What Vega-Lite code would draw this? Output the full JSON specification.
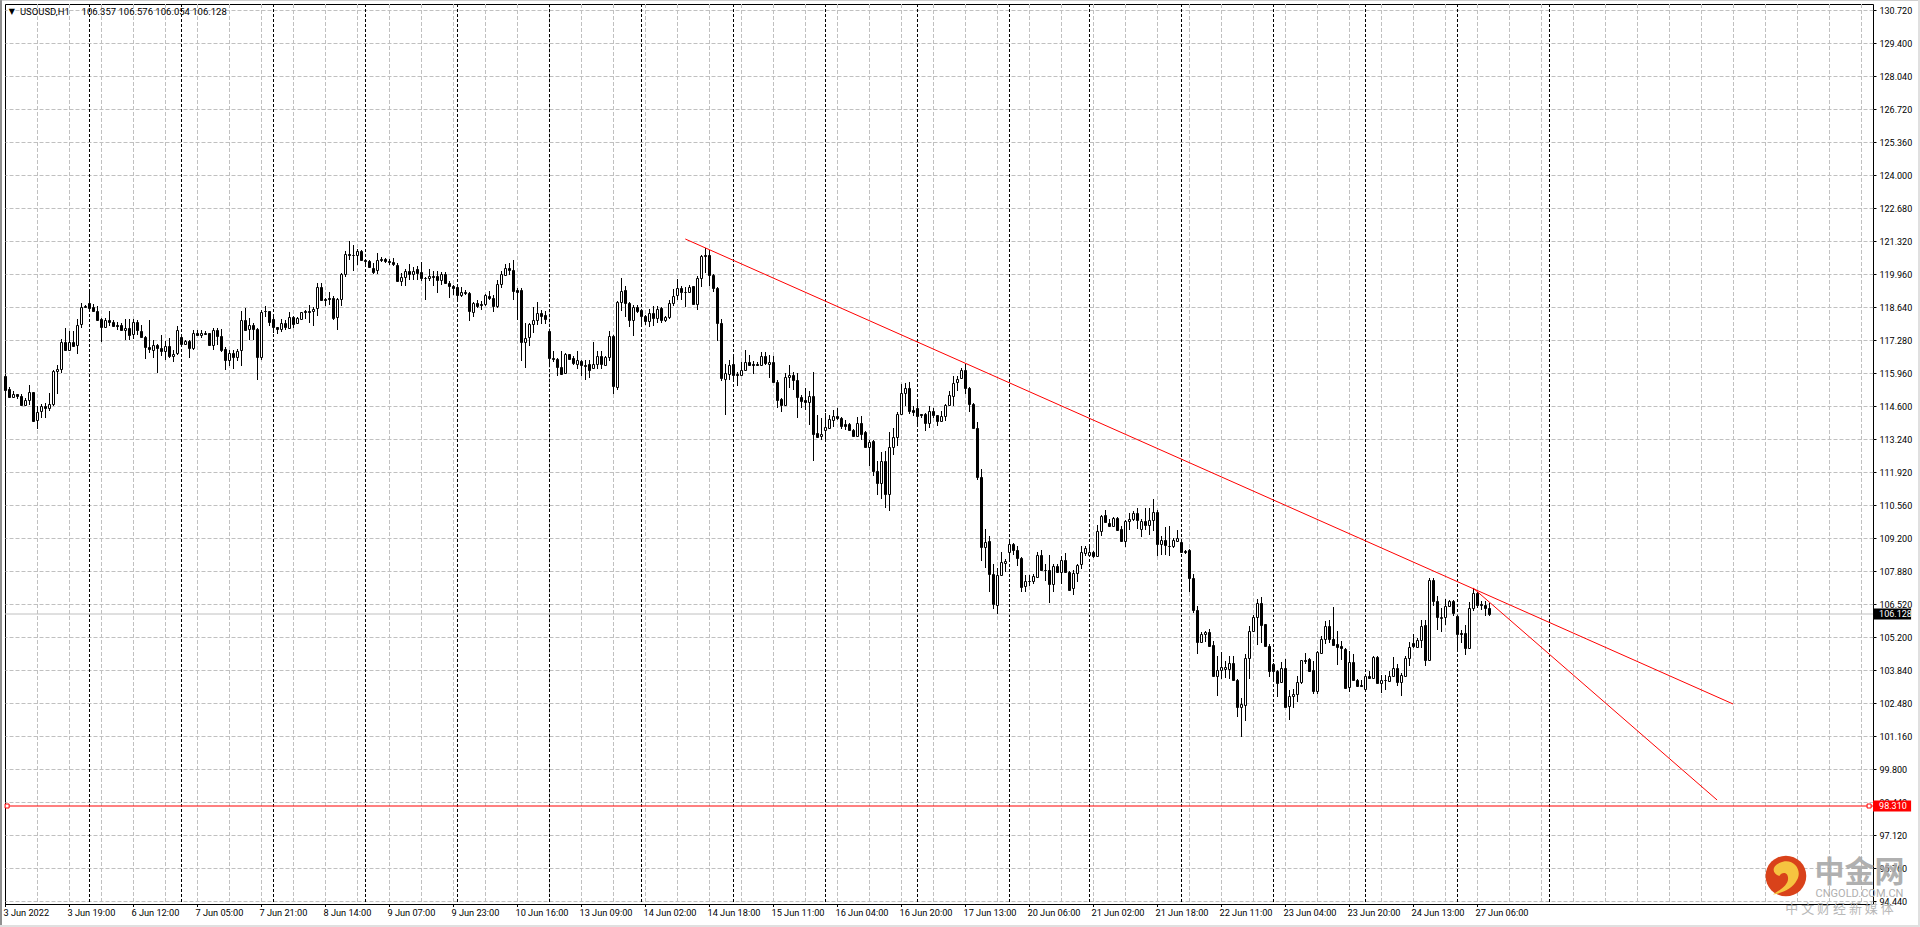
{"$schema":"https://vega.github.io/schema/vega-lite/v6.json","width":1868,"height":900,"autosize":{"type":"none"},"padding":{"left":5,"top":4,"right":47,"bottom":23},"background":"#ffffff","config":{"view":{"stroke":"#000000","strokeWidth":1},"axis":{"labelFont":"Roboto","labelFontSize":9,"labelColor":"#000000"}},"resolve":{"axis":{"x":"independent","y":"independent"}},"datasets":{"ohlc":[
{"i":0,"o":115.80,"h":115.84,"l":115.19,"c":115.23},{"i":1,"o":115.29,"h":115.37,"l":114.95,"c":114.95},{"i":2,"o":114.95,"h":115.21,"l":114.95,"c":115.10},{"i":3,"o":115.09,"h":115.10,"l":114.90,"c":114.99},{"i":4,"o":115.02,"h":115.10,"l":114.62,"c":114.65},{"i":5,"o":114.65,"h":114.92,"l":114.64,"c":114.85},{"i":6,"o":114.83,"h":115.46,"l":114.62,"c":115.17},{"i":7,"o":115.17,"h":115.17,"l":113.93,"c":114.00},{"i":8,"o":114.01,"h":114.58,"l":113.67,"c":114.35},{"i":9,"o":114.38,"h":114.69,"l":114.11,"c":114.60},
{"i":10,"o":114.61,"h":114.72,"l":114.11,"c":114.52},{"i":11,"o":114.50,"h":115.13,"l":114.38,"c":114.68},{"i":12,"o":114.66,"h":116.08,"l":114.58,"c":116.04},{"i":13,"o":116.01,"h":116.28,"l":115.10,"c":116.10},{"i":14,"o":116.10,"h":117.32,"l":115.94,"c":117.20},{"i":15,"o":117.20,"h":117.79,"l":116.89,"c":116.89},{"i":16,"o":116.89,"h":117.64,"l":116.86,"c":117.20},{"i":17,"o":117.20,"h":117.64,"l":117.03,"c":117.05},{"i":18,"o":117.07,"h":118.14,"l":116.73,"c":117.89},{"i":19,"o":117.92,"h":118.79,"l":117.77,"c":118.63},
{"i":20,"o":118.67,"h":118.72,"l":118.59,"c":118.61},{"i":21,"o":118.79,"h":119.24,"l":118.54,"c":118.59},{"i":22,"o":118.63,"h":118.76,"l":118.44,"c":118.45},{"i":23,"o":118.48,"h":118.68,"l":118.06,"c":118.08},{"i":24,"o":118.14,"h":118.18,"l":117.19,"c":117.80},{"i":25,"o":117.80,"h":118.18,"l":117.78,"c":118.11},{"i":26,"o":118.08,"h":118.46,"l":117.84,"c":118.00},{"i":27,"o":118.02,"h":118.11,"l":117.80,"c":117.87},{"i":28,"o":117.88,"h":118.00,"l":117.68,"c":117.87},{"i":29,"o":117.91,"h":117.98,"l":117.64,"c":117.68},
{"i":30,"o":117.68,"h":118.14,"l":117.30,"c":117.77},{"i":31,"o":117.77,"h":118.14,"l":117.27,"c":117.49},{"i":32,"o":117.51,"h":118.14,"l":117.34,"c":118.02},{"i":33,"o":118.02,"h":118.11,"l":117.50,"c":117.68},{"i":34,"o":117.66,"h":117.88,"l":117.39,"c":117.41},{"i":35,"o":117.42,"h":117.43,"l":116.51,"c":117.00},{"i":36,"o":117.00,"h":118.11,"l":116.76,"c":116.92},{"i":37,"o":116.89,"h":117.27,"l":116.55,"c":117.07},{"i":38,"o":117.08,"h":117.13,"l":115.94,"c":116.94},{"i":39,"o":116.96,"h":117.49,"l":116.62,"c":116.82},
{"i":40,"o":116.82,"h":117.26,"l":116.48,"c":117.04},{"i":41,"o":117.04,"h":117.36,"l":116.55,"c":116.62},{"i":42,"o":116.62,"h":116.86,"l":116.37,"c":116.71},{"i":43,"o":116.74,"h":117.84,"l":116.69,"c":117.69},{"i":44,"o":117.41,"h":117.50,"l":117.03,"c":117.11},{"i":45,"o":117.11,"h":117.28,"l":117.09,"c":117.24},{"i":46,"o":117.26,"h":117.30,"l":116.56,"c":116.94},{"i":47,"o":116.94,"h":117.68,"l":116.89,"c":117.57},{"i":48,"o":117.57,"h":117.70,"l":117.46,"c":117.47},{"i":49,"o":117.47,"h":117.68,"l":117.37,"c":117.55},
{"i":50,"o":117.57,"h":117.66,"l":117.47,"c":117.51},{"i":51,"o":117.55,"h":117.57,"l":117.05,"c":117.07},{"i":52,"o":117.07,"h":117.76,"l":116.89,"c":117.69},{"i":53,"o":117.70,"h":117.77,"l":117.09,"c":117.45},{"i":54,"o":117.45,"h":117.73,"l":116.81,"c":116.86},{"i":55,"o":116.93,"h":117.00,"l":116.08,"c":116.46},{"i":56,"o":116.46,"h":116.86,"l":116.24,"c":116.75},{"i":57,"o":116.75,"h":116.89,"l":116.10,"c":116.58},{"i":58,"o":116.58,"h":116.92,"l":116.41,"c":116.83},{"i":59,"o":116.86,"h":118.45,"l":116.21,"c":118.08},
{"i":60,"o":118.11,"h":118.59,"l":117.64,"c":117.70},{"i":61,"o":117.72,"h":118.18,"l":117.27,"c":117.89},{"i":62,"o":117.89,"h":117.98,"l":117.30,"c":117.73},{"i":63,"o":117.74,"h":117.77,"l":115.64,"c":116.58},{"i":64,"o":116.58,"h":118.52,"l":116.46,"c":118.44},{"i":65,"o":118.48,"h":118.68,"l":118.22,"c":118.45},{"i":66,"o":118.48,"h":118.48,"l":117.87,"c":118.03},{"i":67,"o":118.15,"h":118.27,"l":117.57,"c":117.80},{"i":68,"o":117.81,"h":117.81,"l":117.54,"c":117.72},{"i":69,"o":117.72,"h":118.14,"l":117.60,"c":117.98},
{"i":70,"o":117.96,"h":118.08,"l":117.70,"c":117.80},{"i":71,"o":117.77,"h":118.41,"l":117.74,"c":118.22},{"i":72,"o":118.22,"h":118.27,"l":117.77,"c":117.95},{"i":73,"o":117.96,"h":118.22,"l":117.95,"c":118.18},{"i":74,"o":118.14,"h":118.44,"l":118.11,"c":118.41},{"i":75,"o":118.48,"h":118.52,"l":118.14,"c":118.44},{"i":76,"o":118.46,"h":118.72,"l":117.98,"c":118.42},{"i":77,"o":118.46,"h":118.63,"l":117.84,"c":118.56},{"i":78,"o":118.59,"h":119.60,"l":118.25,"c":119.44},{"i":79,"o":119.44,"h":119.60,"l":118.88,"c":118.91},
{"i":80,"o":118.95,"h":118.99,"l":118.68,"c":118.91},{"i":81,"o":118.99,"h":119.24,"l":118.72,"c":118.94},{"i":82,"o":119.01,"h":119.06,"l":118.11,"c":118.19},{"i":83,"o":118.22,"h":118.99,"l":117.70,"c":118.95},{"i":84,"o":118.95,"h":120.01,"l":118.68,"c":119.98},{"i":85,"o":119.97,"h":120.89,"l":119.83,"c":120.80},{"i":86,"o":120.78,"h":121.33,"l":120.55,"c":120.74},{"i":87,"o":120.76,"h":121.16,"l":120.08,"c":120.73},{"i":88,"o":120.74,"h":120.99,"l":120.35,"c":120.91},{"i":89,"o":120.91,"h":120.93,"l":120.53,"c":120.54},
{"i":90,"o":120.54,"h":120.55,"l":120.28,"c":120.49},{"i":91,"o":120.50,"h":120.53,"l":120.24,"c":120.26},{"i":92,"o":120.21,"h":120.42,"l":119.97,"c":120.05},{"i":93,"o":120.12,"h":120.82,"l":119.96,"c":120.53},{"i":94,"o":120.58,"h":120.66,"l":120.44,"c":120.53},{"i":95,"o":120.58,"h":120.64,"l":120.42,"c":120.49},{"i":96,"o":120.50,"h":120.58,"l":120.35,"c":120.45},{"i":97,"o":120.46,"h":120.64,"l":120.31,"c":120.38},{"i":98,"o":120.35,"h":120.42,"l":119.67,"c":119.67},{"i":99,"o":119.67,"h":120.01,"l":119.47,"c":119.85},
{"i":100,"o":119.85,"h":120.17,"l":119.50,"c":120.09},{"i":101,"o":120.09,"h":120.38,"l":119.74,"c":119.96},{"i":102,"o":119.96,"h":120.26,"l":119.74,"c":120.09},{"i":103,"o":120.17,"h":120.28,"l":119.74,"c":120.02},{"i":104,"o":120.05,"h":120.45,"l":119.70,"c":119.79},{"i":105,"o":119.82,"h":119.85,"l":118.93,"c":119.79},{"i":106,"o":119.79,"h":120.17,"l":119.67,"c":119.89},{"i":107,"o":119.89,"h":120.08,"l":119.47,"c":119.85},{"i":108,"o":119.90,"h":120.08,"l":119.20,"c":119.74},{"i":109,"o":119.73,"h":120.04,"l":119.54,"c":119.97},
{"i":110,"o":119.98,"h":120.04,"l":119.56,"c":119.59},{"i":111,"o":119.60,"h":119.67,"l":118.99,"c":119.47},{"i":112,"o":119.50,"h":119.54,"l":119.13,"c":119.39},{"i":113,"o":119.44,"h":119.47,"l":118.90,"c":119.10},{"i":114,"o":119.10,"h":119.44,"l":119.03,"c":119.24},{"i":115,"o":119.24,"h":119.33,"l":119.10,"c":119.18},{"i":116,"o":119.20,"h":119.22,"l":118.04,"c":118.45},{"i":117,"o":118.41,"h":118.82,"l":118.22,"c":118.79},{"i":118,"o":118.79,"h":118.93,"l":118.59,"c":118.68},{"i":119,"o":118.76,"h":118.86,"l":118.52,"c":118.69},
{"i":120,"o":118.73,"h":119.17,"l":118.65,"c":119.12},{"i":121,"o":119.09,"h":119.27,"l":118.93,"c":119.01},{"i":122,"o":119.01,"h":119.13,"l":118.44,"c":118.68},{"i":123,"o":118.68,"h":119.74,"l":118.59,"c":119.56},{"i":124,"o":119.56,"h":120.08,"l":119.40,"c":119.97},{"i":125,"o":119.94,"h":120.38,"l":119.88,"c":120.23},{"i":126,"o":120.23,"h":120.42,"l":119.94,"c":120.12},{"i":127,"o":120.15,"h":120.55,"l":118.93,"c":119.27},{"i":128,"o":119.33,"h":119.39,"l":118.11,"c":119.25},{"i":129,"o":119.33,"h":119.39,"l":116.44,"c":117.19},
{"i":130,"o":117.19,"h":117.98,"l":116.16,"c":117.36},{"i":131,"o":117.41,"h":117.98,"l":117.03,"c":117.95},{"i":132,"o":117.93,"h":118.63,"l":117.57,"c":118.10},{"i":133,"o":118.10,"h":118.84,"l":117.91,"c":118.38},{"i":134,"o":118.38,"h":118.52,"l":117.95,"c":118.25},{"i":135,"o":118.30,"h":118.45,"l":117.95,"c":118.15},{"i":136,"o":117.65,"h":117.70,"l":116.21,"c":116.55},{"i":137,"o":116.55,"h":116.82,"l":116.37,"c":116.50},{"i":138,"o":116.51,"h":116.55,"l":115.80,"c":116.17},{"i":139,"o":116.20,"h":116.82,"l":115.89,"c":115.91},
{"i":140,"o":115.93,"h":116.75,"l":115.89,"c":116.71},{"i":141,"o":116.71,"h":116.73,"l":116.46,"c":116.52},{"i":142,"o":116.55,"h":116.64,"l":116.28,"c":116.33},{"i":143,"o":116.31,"h":116.82,"l":116.10,"c":116.46},{"i":144,"o":116.43,"h":116.48,"l":115.80,"c":116.25},{"i":145,"o":116.27,"h":116.46,"l":115.67,"c":116.24},{"i":146,"o":116.31,"h":116.46,"l":115.74,"c":116.05},{"i":147,"o":116.13,"h":117.22,"l":116.10,"c":116.31},{"i":148,"o":116.31,"h":116.82,"l":116.10,"c":116.63},{"i":149,"o":116.63,"h":116.82,"l":116.10,"c":116.31},
{"i":150,"o":116.28,"h":116.64,"l":116.21,"c":116.59},{"i":151,"o":116.59,"h":117.64,"l":116.41,"c":117.43},{"i":152,"o":117.46,"h":117.50,"l":115.10,"c":115.40},{"i":153,"o":115.37,"h":118.86,"l":115.26,"c":118.82},{"i":154,"o":118.83,"h":119.81,"l":118.45,"c":119.26},{"i":155,"o":119.32,"h":119.47,"l":118.22,"c":118.78},{"i":156,"o":118.79,"h":118.82,"l":117.81,"c":118.08},{"i":157,"o":118.08,"h":118.72,"l":117.46,"c":118.63},{"i":158,"o":118.63,"h":118.72,"l":118.38,"c":118.45},{"i":159,"o":118.50,"h":118.55,"l":117.84,"c":118.25},
{"i":160,"o":118.27,"h":118.31,"l":117.91,"c":118.04},{"i":161,"o":118.04,"h":118.54,"l":117.81,"c":118.38},{"i":162,"o":118.38,"h":118.65,"l":117.84,"c":118.17},{"i":163,"o":118.17,"h":118.68,"l":117.98,"c":118.54},{"i":164,"o":118.57,"h":118.63,"l":117.98,"c":118.08},{"i":165,"o":118.08,"h":118.27,"l":118.00,"c":118.22},{"i":166,"o":118.22,"h":118.90,"l":118.14,"c":118.79},{"i":167,"o":118.79,"h":119.36,"l":118.65,"c":119.09},{"i":168,"o":119.10,"h":119.77,"l":118.93,"c":119.40},{"i":169,"o":119.40,"h":119.47,"l":118.93,"c":119.22},
{"i":170,"o":119.25,"h":119.44,"l":118.63,"c":119.24},{"i":171,"o":119.24,"h":119.54,"l":119.20,"c":119.44},{"i":172,"o":119.47,"h":119.50,"l":118.71,"c":118.73},{"i":173,"o":118.73,"h":119.88,"l":118.52,"c":119.81},{"i":174,"o":119.81,"h":120.76,"l":119.44,"c":120.69},{"i":175,"o":120.74,"h":121.03,"l":120.01,"c":120.69},{"i":176,"o":120.74,"h":120.93,"l":119.47,"c":119.92},{"i":177,"o":119.94,"h":119.98,"l":119.22,"c":119.39},{"i":178,"o":119.40,"h":119.44,"l":117.23,"c":117.98},{"i":179,"o":117.98,"h":118.14,"l":115.60,"c":115.72},
{"i":180,"o":115.68,"h":116.31,"l":114.24,"c":115.93},{"i":181,"o":115.91,"h":116.48,"l":115.64,"c":116.27},{"i":182,"o":116.31,"h":116.62,"l":115.64,"c":115.84},{"i":183,"o":115.91,"h":115.97,"l":115.42,"c":115.84},{"i":184,"o":115.87,"h":116.37,"l":115.84,"c":116.06},{"i":185,"o":116.06,"h":116.89,"l":116.01,"c":116.39},{"i":186,"o":116.40,"h":116.66,"l":116.21,"c":116.25},{"i":187,"o":116.32,"h":116.41,"l":115.91,"c":116.25},{"i":188,"o":116.32,"h":116.37,"l":116.24,"c":116.25},{"i":189,"o":116.28,"h":116.79,"l":116.24,"c":116.63},
{"i":190,"o":116.64,"h":116.78,"l":116.28,"c":116.33},{"i":191,"o":116.31,"h":116.69,"l":115.74,"c":116.40},{"i":192,"o":116.40,"h":116.64,"l":115.53,"c":115.56},{"i":193,"o":115.59,"h":115.64,"l":114.51,"c":114.85},{"i":194,"o":114.90,"h":114.92,"l":114.34,"c":114.65},{"i":195,"o":114.64,"h":115.94,"l":114.61,"c":115.78},{"i":196,"o":115.76,"h":116.28,"l":115.33,"c":115.87},{"i":197,"o":115.87,"h":116.00,"l":115.26,"c":115.64},{"i":198,"o":115.67,"h":115.94,"l":114.09,"c":114.95},{"i":199,"o":114.96,"h":115.06,"l":114.51,"c":114.79},
{"i":200,"o":114.85,"h":115.33,"l":114.42,"c":114.75},{"i":201,"o":114.76,"h":115.19,"l":113.84,"c":114.99},{"i":202,"o":115.02,"h":115.98,"l":112.34,"c":113.44},{"i":203,"o":113.50,"h":114.24,"l":113.29,"c":113.35},{"i":204,"o":113.36,"h":114.11,"l":113.20,"c":113.46},{"i":205,"o":113.61,"h":114.31,"l":113.23,"c":113.74},{"i":206,"o":113.71,"h":114.24,"l":113.70,"c":114.07},{"i":207,"o":114.03,"h":114.42,"l":113.73,"c":114.19},{"i":208,"o":114.19,"h":114.53,"l":114.04,"c":114.10},{"i":209,"o":114.11,"h":114.15,"l":113.66,"c":113.80},
{"i":210,"o":113.88,"h":114.04,"l":113.61,"c":113.80},{"i":211,"o":113.88,"h":113.90,"l":113.57,"c":113.62},{"i":212,"o":113.63,"h":113.66,"l":113.36,"c":113.39},{"i":213,"o":113.39,"h":114.15,"l":113.36,"c":113.90},{"i":214,"o":113.90,"h":114.20,"l":113.23,"c":113.47},{"i":215,"o":113.52,"h":113.57,"l":112.89,"c":112.91},{"i":216,"o":112.91,"h":113.23,"l":112.17,"c":113.14},{"i":217,"o":113.16,"h":113.23,"l":111.76,"c":111.94},{"i":218,"o":111.96,"h":112.34,"l":110.99,"c":111.44},{"i":219,"o":111.45,"h":112.71,"l":110.81,"c":112.37},
{"i":220,"o":112.37,"h":112.75,"l":110.46,"c":111.00},{"i":221,"o":111.00,"h":113.52,"l":110.30,"c":112.93},{"i":222,"o":112.93,"h":113.70,"l":112.62,"c":113.33},{"i":223,"o":113.33,"h":114.34,"l":112.95,"c":114.27},{"i":224,"o":114.27,"h":115.51,"l":114.24,"c":115.13},{"i":225,"o":115.11,"h":115.53,"l":114.58,"c":115.33},{"i":226,"o":115.33,"h":115.56,"l":114.28,"c":114.39},{"i":227,"o":114.45,"h":114.58,"l":114.20,"c":114.34},{"i":228,"o":114.51,"h":114.83,"l":113.80,"c":114.18},{"i":229,"o":114.26,"h":114.28,"l":114.11,"c":114.22},
{"i":230,"o":114.28,"h":114.31,"l":113.57,"c":113.90},{"i":231,"o":113.90,"h":114.58,"l":113.70,"c":114.39},{"i":232,"o":114.39,"h":114.52,"l":114.11,"c":114.23},{"i":233,"o":114.24,"h":114.24,"l":113.80,"c":113.99},{"i":234,"o":114.00,"h":114.38,"l":113.97,"c":114.18},{"i":235,"o":114.18,"h":114.69,"l":113.97,"c":114.64},{"i":236,"o":114.64,"h":115.19,"l":114.58,"c":115.05},{"i":237,"o":114.99,"h":115.80,"l":114.61,"c":115.53},{"i":238,"o":115.56,"h":115.83,"l":115.19,"c":115.70},{"i":239,"o":115.72,"h":116.14,"l":115.70,"c":116.08},
{"i":240,"o":116.08,"h":116.32,"l":115.10,"c":115.32},{"i":241,"o":115.33,"h":115.36,"l":114.34,"c":114.68},{"i":242,"o":114.68,"h":114.72,"l":113.66,"c":113.72},{"i":243,"o":113.72,"h":113.93,"l":111.60,"c":111.69},{"i":244,"o":111.71,"h":112.03,"l":108.27,"c":108.87},{"i":245,"o":108.86,"h":109.59,"l":107.99,"c":109.07},{"i":246,"o":109.10,"h":109.29,"l":107.04,"c":107.77},{"i":247,"o":107.77,"h":108.18,"l":106.33,"c":106.52},{"i":248,"o":106.50,"h":108.00,"l":106.14,"c":107.72},{"i":249,"o":107.70,"h":108.67,"l":107.66,"c":108.25},
{"i":250,"o":108.20,"h":108.37,"l":107.85,"c":108.29},{"i":251,"o":108.64,"h":109.18,"l":108.31,"c":108.98},{"i":252,"o":108.99,"h":109.02,"l":108.54,"c":108.72},{"i":253,"o":108.75,"h":108.91,"l":108.07,"c":108.40},{"i":254,"o":108.40,"h":108.45,"l":107.02,"c":107.24},{"i":255,"o":107.25,"h":107.73,"l":107.01,"c":107.47},{"i":256,"o":107.49,"h":107.73,"l":107.28,"c":107.46},{"i":257,"o":107.46,"h":107.74,"l":107.35,"c":107.69},{"i":258,"o":107.62,"h":108.67,"l":107.58,"c":108.53},{"i":259,"o":108.54,"h":108.72,"l":107.88,"c":107.91},
{"i":260,"o":107.93,"h":108.18,"l":107.46,"c":107.91},{"i":261,"o":107.93,"h":108.54,"l":106.58,"c":107.35},{"i":262,"o":107.36,"h":108.18,"l":107.02,"c":108.08},{"i":263,"o":108.10,"h":108.16,"l":107.80,"c":107.85},{"i":264,"o":107.85,"h":108.50,"l":107.36,"c":108.33},{"i":265,"o":108.34,"h":108.61,"l":107.82,"c":107.85},{"i":266,"o":107.85,"h":107.87,"l":107.09,"c":107.12},{"i":267,"o":107.17,"h":107.91,"l":106.88,"c":107.80},{"i":268,"o":107.80,"h":108.18,"l":107.42,"c":108.12},{"i":269,"o":108.16,"h":108.88,"l":107.96,"c":108.65},
{"i":270,"o":108.60,"h":108.91,"l":108.50,"c":108.83},{"i":271,"o":108.53,"h":108.88,"l":108.50,"c":108.65},{"i":272,"o":108.67,"h":108.68,"l":108.42,"c":108.48},{"i":273,"o":108.48,"h":109.77,"l":108.45,"c":109.52},{"i":274,"o":109.49,"h":110.17,"l":109.32,"c":110.13},{"i":275,"o":110.17,"h":110.35,"l":109.83,"c":109.86},{"i":276,"o":109.83,"h":110.00,"l":109.66,"c":109.70},{"i":277,"o":109.71,"h":110.08,"l":109.70,"c":110.04},{"i":278,"o":110.05,"h":110.08,"l":109.53,"c":109.56},{"i":279,"o":109.59,"h":109.72,"l":109.09,"c":109.11},
{"i":280,"o":109.11,"h":109.94,"l":108.84,"c":109.91},{"i":281,"o":109.91,"h":110.24,"l":109.53,"c":110.00},{"i":282,"o":110.00,"h":110.31,"l":109.90,"c":110.24},{"i":283,"o":110.25,"h":110.44,"l":109.59,"c":109.95},{"i":284,"o":109.57,"h":109.99,"l":109.25,"c":109.93},{"i":285,"o":109.93,"h":110.44,"l":109.56,"c":109.74},{"i":286,"o":109.74,"h":110.44,"l":109.36,"c":109.95},{"i":287,"o":109.94,"h":110.82,"l":109.49,"c":110.28},{"i":288,"o":110.29,"h":110.35,"l":108.50,"c":108.96},{"i":289,"o":108.96,"h":109.29,"l":108.54,"c":109.14},
{"i":290,"o":109.14,"h":109.66,"l":108.54,"c":108.92},{"i":291,"o":108.91,"h":109.70,"l":108.50,"c":108.88},{"i":292,"o":108.88,"h":109.22,"l":108.82,"c":109.14},{"i":293,"o":109.10,"h":109.56,"l":109.06,"c":109.22},{"i":294,"o":109.06,"h":109.09,"l":108.61,"c":108.64},{"i":295,"o":108.71,"h":108.75,"l":108.58,"c":108.65},{"i":296,"o":108.75,"h":108.77,"l":107.01,"c":107.58},{"i":297,"o":107.59,"h":107.76,"l":106.17,"c":106.28},{"i":298,"o":106.29,"h":106.47,"l":104.51,"c":104.97},{"i":299,"o":104.97,"h":105.38,"l":104.95,"c":105.31},
{"i":300,"o":105.31,"h":105.42,"l":104.97,"c":105.40},{"i":301,"o":105.40,"h":105.52,"l":104.78,"c":104.84},{"i":302,"o":104.87,"h":105.04,"l":103.56,"c":103.59},{"i":303,"o":103.59,"h":104.40,"l":102.78,"c":103.85},{"i":304,"o":103.86,"h":104.57,"l":103.48,"c":103.97},{"i":305,"o":103.89,"h":104.20,"l":103.52,"c":103.97},{"i":306,"o":103.89,"h":104.40,"l":103.48,"c":104.15},{"i":307,"o":104.15,"h":104.40,"l":103.39,"c":103.43},{"i":308,"o":103.44,"h":103.46,"l":101.93,"c":102.33},{"i":309,"o":102.34,"h":102.71,"l":101.12,"c":102.48},
{"i":310,"o":102.41,"h":104.51,"l":101.76,"c":104.34},{"i":311,"o":104.34,"h":105.65,"l":103.46,"c":105.44},{"i":312,"o":105.42,"h":106.10,"l":105.38,"c":106.01},{"i":313,"o":105.99,"h":106.74,"l":104.85,"c":106.59},{"i":314,"o":106.59,"h":106.82,"l":104.95,"c":105.67},{"i":315,"o":105.72,"h":105.73,"l":104.78,"c":104.81},{"i":316,"o":104.84,"h":104.92,"l":103.56,"c":103.79},{"i":317,"o":104.11,"h":104.13,"l":103.39,"c":103.79},{"i":318,"o":103.82,"h":103.86,"l":102.75,"c":103.32},{"i":319,"o":103.36,"h":104.17,"l":103.32,"c":103.93},
{"i":320,"o":103.93,"h":104.30,"l":102.30,"c":102.35},{"i":321,"o":102.37,"h":103.02,"l":101.80,"c":102.80},{"i":322,"o":102.78,"h":103.08,"l":102.30,"c":102.86},{"i":323,"o":102.86,"h":103.62,"l":102.53,"c":103.37},{"i":324,"o":103.35,"h":104.27,"l":103.29,"c":104.25},{"i":325,"o":104.27,"h":104.54,"l":104.07,"c":104.22},{"i":326,"o":104.30,"h":104.34,"l":103.78,"c":103.81},{"i":327,"o":103.84,"h":104.20,"l":102.87,"c":102.98},{"i":328,"o":102.98,"h":104.61,"l":102.88,"c":104.57},{"i":329,"o":104.55,"h":105.22,"l":104.51,"c":105.11},
{"i":330,"o":105.11,"h":105.83,"l":104.92,"c":105.65},{"i":331,"o":105.65,"h":105.90,"l":104.95,"c":105.11},{"i":332,"o":105.12,"h":106.41,"l":104.81,"c":104.88},{"i":333,"o":104.92,"h":105.42,"l":104.04,"c":104.78},{"i":334,"o":104.82,"h":105.01,"l":104.27,"c":104.76},{"i":335,"o":104.70,"h":104.74,"l":103.08,"c":103.13},{"i":336,"o":103.16,"h":104.61,"l":102.94,"c":104.17},{"i":337,"o":104.19,"h":104.51,"l":103.39,"c":103.43},{"i":338,"o":103.44,"h":103.48,"l":103.16,"c":103.18},{"i":339,"o":103.24,"h":103.45,"l":103.16,"c":103.18},
{"i":340,"o":103.09,"h":103.66,"l":103.07,"c":103.62},{"i":341,"o":103.59,"h":103.80,"l":103.48,"c":103.54},{"i":342,"o":103.51,"h":104.43,"l":103.48,"c":104.39},{"i":343,"o":104.39,"h":104.43,"l":103.29,"c":103.32},{"i":344,"o":103.32,"h":103.66,"l":102.91,"c":103.44},{"i":345,"o":103.45,"h":103.66,"l":103.05,"c":103.43},{"i":346,"o":103.41,"h":103.79,"l":103.39,"c":103.62},{"i":347,"o":103.62,"h":104.38,"l":103.59,"c":103.93},{"i":348,"o":103.93,"h":104.09,"l":103.18,"c":103.35},{"i":349,"o":103.36,"h":103.73,"l":102.78,"c":103.65},
{"i":350,"o":103.60,"h":104.40,"l":103.56,"c":104.35},{"i":351,"o":104.34,"h":104.97,"l":104.02,"c":104.78},{"i":352,"o":104.95,"h":105.33,"l":104.74,"c":104.81},{"i":353,"o":104.77,"h":105.15,"l":104.74,"c":105.08},{"i":354,"o":105.06,"h":105.90,"l":104.74,"c":105.65},{"i":355,"o":105.67,"h":105.90,"l":104.00,"c":104.24},{"i":356,"o":104.27,"h":107.59,"l":104.20,"c":107.53},{"i":357,"o":107.53,"h":107.59,"l":106.44,"c":106.64},{"i":358,"o":106.66,"h":106.85,"l":105.49,"c":105.99},{"i":359,"o":105.98,"h":106.37,"l":105.38,"c":106.01},
{"i":360,"o":106.01,"h":106.74,"l":105.67,"c":106.44},{"i":361,"o":106.44,"h":106.71,"l":106.41,"c":106.67},{"i":362,"o":106.66,"h":106.68,"l":106.06,"c":106.16},{"i":363,"o":106.06,"h":106.10,"l":104.72,"c":105.30},{"i":364,"o":105.35,"h":105.49,"l":104.95,"c":105.30},{"i":365,"o":105.35,"h":105.69,"l":104.45,"c":104.73},{"i":366,"o":104.73,"h":106.60,"l":104.70,"c":106.37},{"i":367,"o":106.37,"h":107.19,"l":106.24,"c":106.98},{"i":368,"o":106.98,"h":107.01,"l":106.37,"c":106.51},{"i":369,"o":106.53,"h":106.64,"l":106.30,"c":106.49},
{"i":370,"o":106.51,"h":106.64,"l":106.06,"c":106.37},{"i":371,"o":106.357,"h":106.576,"l":106.054,"c":106.128}
]},"layer":[
{"data":{"values":[{"i":8},{"i":16},{"i":24},{"i":32},{"i":40},{"i":48},{"i":56},{"i":64},{"i":72},{"i":80},{"i":88},{"i":96},{"i":104},{"i":112},{"i":120},{"i":128},{"i":136},{"i":144},{"i":152},{"i":160},{"i":168},{"i":176},{"i":184},{"i":192},{"i":200},{"i":208},{"i":216},{"i":224},{"i":232},{"i":240},{"i":248},{"i":256},{"i":264},{"i":272},{"i":280},{"i":288},{"i":296},{"i":304},{"i":312},{"i":320},{"i":328},{"i":336},{"i":344},{"i":352},{"i":360},{"i":368},{"i":376},{"i":384},{"i":392},{"i":400},{"i":408},{"i":416},{"i":424},{"i":432},{"i":440},{"i":448},{"i":456},{"i":464}]},"mark":{"type":"rule","stroke":"#c0c0c0","strokeWidth":1,"strokeDash":[4,2]},"encoding":{"x":{"field":"i","type":"quantitative","scale":{"domain":[-0.125,466.875],"nice":false,"zero":false,"padding":0},"axis":null}}},
{"data":{"values":[{"i":21},{"i":44},{"i":67},{"i":90},{"i":113},{"i":136},{"i":159},{"i":182},{"i":205},{"i":228},{"i":251},{"i":271},{"i":294},{"i":317},{"i":340},{"i":363},{"i":386}]},"mark":{"type":"rule","stroke":"#000000","strokeWidth":1,"strokeDash":[3,2]},"encoding":{"x":{"field":"i","type":"quantitative","axis":null}}},
{"data":{"values":[{"p":106.128}]},"mark":{"type":"rule","stroke":"#c0c0c0","strokeWidth":1},"encoding":{"y":{"field":"p","type":"quantitative","scale":{"domain":[94.3179,130.9643],"nice":false,"zero":false,"round":true},"axis":null}}},
{"data":{"values":[{"p":98.31}]},"mark":{"type":"rule","stroke":"#ff0000","strokeWidth":1},"encoding":{"y":{"field":"p","type":"quantitative","axis":null}}},
{"data":{"name":"ohlc"},"mark":{"type":"rule","stroke":"#000000","strokeWidth":1},"encoding":{"x":{"field":"i","type":"quantitative","title":null,"axis":{"values":[0,16,32,48,64,80,96,112,128,144,160,176,192,208,224,240,256,272,288,304,320,336,352,368],"labelExpr":"['3 Jun 2022','3 Jun 19:00','6 Jun 12:00','7 Jun 05:00','7 Jun 21:00','8 Jun 14:00','9 Jun 07:00','9 Jun 23:00','10 Jun 16:00','13 Jun 09:00','14 Jun 02:00','14 Jun 18:00','15 Jun 11:00','16 Jun 04:00','16 Jun 20:00','17 Jun 13:00','20 Jun 06:00','21 Jun 02:00','21 Jun 18:00','22 Jun 11:00','23 Jun 04:00','23 Jun 20:00','24 Jun 13:00','27 Jun 06:00'][round(datum.value/16)]","labelAlign":"left","labelBaseline":"middle","labelOverlap":false,"labelFlush":false,"labelFontSize":9.2,"labelOffset":-2,"labelPadding":6,"tickSize":3,"tickColor":"#000000","tickRound":false,"translate":0,"domain":false,"grid":false,"title":null}},"y":{"field":"l","type":"quantitative","title":null,"axis":{"orient":"right","values":[130.72,129.3763,128.0326,126.6889,125.3452,124.0015,122.6578,121.3141,119.9704,118.6267,117.283,115.9393,114.5956,113.2519,111.9082,110.5645,109.2208,107.8771,106.5334,105.1897,103.846,102.5023,101.1586,99.8149,98.4712,97.1275,95.7838,94.44],"labelExpr":"['130.720','129.400','128.040','126.720','125.360','124.000','122.680','121.320','119.960','118.640','117.280','115.960','114.600','113.240','111.920','110.560','109.200','107.880','106.520','105.200','103.840','102.480','101.160','99.800','98.440','97.120','95.760','94.440'][round((130.72-datum.value)/1.3437)]","labelAlign":"left","labelOverlap":false,"labelFlush":false,"labelPadding":3,"tickSize":3,"tickColor":"#000000","domain":false,"grid":true,"gridColor":"#c0c0c0","gridDash":[4,2],"gridWidth":1,"title":null}},"y2":{"field":"h"}}},
{"data":{"name":"ohlc"},"mark":{"type":"bar","size":2,"stroke":"#000000","strokeWidth":1,"yOffset":0.5,"y2Offset":0.5},"encoding":{"x":{"field":"i","type":"quantitative","axis":null},"y":{"field":"o","type":"quantitative","axis":null},"y2":{"field":"c"},"fill":{"condition":{"test":"datum.c>=datum.o","value":"#ffffff"},"value":"#000000"}}},
{"data":{"values":[{"line":"a","i":169.95,"p":121.404},{"line":"a","i":431.9,"p":102.48},{"line":"b","i":366.9,"p":107.19},{"line":"b","i":427.9,"p":98.57}]},"mark":{"type":"line","stroke":"#ff0000","strokeWidth":1},"encoding":{"x":{"field":"i","type":"quantitative","axis":null},"y":{"field":"p","type":"quantitative","axis":null},"detail":{"field":"line"}}},
{"data":{"values":[{"i":0.4,"p":98.31},{"i":465.9,"p":98.31}]},"mark":{"type":"point","shape":"square","size":16,"filled":true,"fill":"#ffffff","stroke":"#ff0000","strokeWidth":1,"opacity":1},"encoding":{"x":{"field":"i","type":"quantitative","axis":null},"y":{"field":"p","type":"quantitative","axis":null}}},
{"data":{"values":[{"p":106.128,"t":"106.128","k":"#000000"},{"p":98.31,"t":"98.310","k":"#ff0000"}]},"mark":{"type":"rule","strokeWidth":11},"encoding":{"x":{"datum":466.875,"type":"quantitative","axis":null},"x2":{"datum":476.4},"y":{"field":"p","type":"quantitative","axis":null},"stroke":{"field":"k","type":"nominal","scale":null,"legend":null}}},
{"data":{"values":[{"p":106.128,"t":"106.128"},{"p":98.31,"t":"98.310"}]},"mark":{"type":"text","align":"left","baseline":"middle","font":"Roboto","fontSize":9,"fill":"#ffffff"},"encoding":{"x":{"datum":468.4,"type":"quantitative","axis":null},"y":{"field":"p","type":"quantitative","axis":null},"text":{"field":"t"}}},
{"data":{"values":[{"t":"USOUSD,H1\u00a0\u00a0\u00a0\u00a0\u00a0106.357 106.576 106.054 106.128"}]},"mark":{"type":"text","align":"left","baseline":"middle","font":"Roboto","fontSize":9.5,"fill":"#000000"},"encoding":{"x":{"datum":3.6,"type":"quantitative","axis":null},"y":{"datum":130.65,"type":"quantitative","axis":null},"text":{"field":"t"}}},
{"data":{"values":[{"t":"▼"}]},"mark":{"type":"text","align":"center","baseline":"middle","font":"DejaVu Sans","fontSize":8,"fill":"#000000"},"encoding":{"x":{"datum":1.6,"type":"quantitative","axis":null},"y":{"datum":130.65,"type":"quantitative","axis":null},"text":{"field":"t"}}},
{"data":{"values":[{"k":"logo"}]},"mark":{"type":"point","shape":"circle","size":1660,"filled":true,"opacity":1,"fill":"#d9421a"},"encoding":{"x":{"datum":445.1,"type":"quantitative","axis":null},"y":{"datum":95.44,"type":"quantitative","axis":null}}},
{"data":{"values":[{"k":"swirl"}]},"mark":{"type":"point","shape":"M-0.3,-0.6 C0.3,-0.9 0.8,-0.3 0.5,0.2 C0.3,0.6 -0.2,0.8 -0.6,0.85 C-0.2,0.6 0.1,0.4 0.1,0.1 C0.1,-0.2 -0.2,-0.2 -0.3,0 C-0.6,-0.1 -0.7,-0.4 -0.3,-0.6Z","size":1900,"filled":true,"opacity":1,"fill":"#f6c440"},"encoding":{"x":{"datum":445.1,"type":"quantitative","axis":null},"y":{"datum":95.44,"type":"quantitative","axis":null}}},
{"data":{"values":[{"t":"中金网"}]},"mark":{"type":"text","align":"center","baseline":"middle","font":"Noto Sans CJK SC","fontWeight":"bold","fontSize":30,"fill":"#a8a8a8","opacity":0.9},"encoding":{"x":{"datum":463.5,"type":"quantitative","axis":null},"y":{"datum":95.6,"type":"quantitative","axis":null},"text":{"field":"t"}}},
{"data":{"values":[{"t":"CNGOLD.COM.CN"}]},"mark":{"type":"text","align":"center","baseline":"middle","font":"Roboto","fontSize":11,"fill":"#b0b0b0"},"encoding":{"x":{"datum":463.5,"type":"quantitative","axis":null},"y":{"datum":94.72,"type":"quantitative","axis":null},"text":{"field":"t"}}},
{"data":{"values":[{"t":"中 文 财 经 新 媒 体"}]},"mark":{"type":"text","align":"center","baseline":"middle","font":"Noto Sans CJK SC","fontSize":13,"fill":"#b8b8b8"},"encoding":{"x":{"datum":458.5,"type":"quantitative","axis":null},"y":{"datum":94.12,"type":"quantitative","axis":null},"text":{"field":"t"}}},
{"data":{"values":[{"k":"left"}]},"mark":{"type":"rule","stroke":"#909090","strokeWidth":2},"encoding":{"x":{"datum":-1.125,"type":"quantitative","axis":null},"y":{"datum":131.13,"type":"quantitative","axis":null},"y2":{"datum":93.44}}},
{"data":{"values":[{"k":"top"}]},"mark":{"type":"rule","stroke":"#a0a0a0","strokeWidth":1},"encoding":{"y":{"datum":131.13,"type":"quantitative","axis":null},"x":{"datum":-1.375,"type":"quantitative","axis":null},"x2":{"datum":478.6}}},
{"data":{"values":[{"k":"bottom"}]},"mark":{"type":"rule","stroke":"#e0e0e0","strokeWidth":2},"encoding":{"y":{"datum":93.44,"type":"quantitative","axis":null},"x":{"datum":-1.375,"type":"quantitative","axis":null},"x2":{"datum":478.6}}},
{"data":{"values":[{"k":"right"}]},"mark":{"type":"rule","stroke":"#e0e0e0","strokeWidth":2},"encoding":{"x":{"datum":478.375,"type":"quantitative","axis":null},"y":{"datum":131.13,"type":"quantitative","axis":null},"y2":{"datum":93.44}}}
]}
